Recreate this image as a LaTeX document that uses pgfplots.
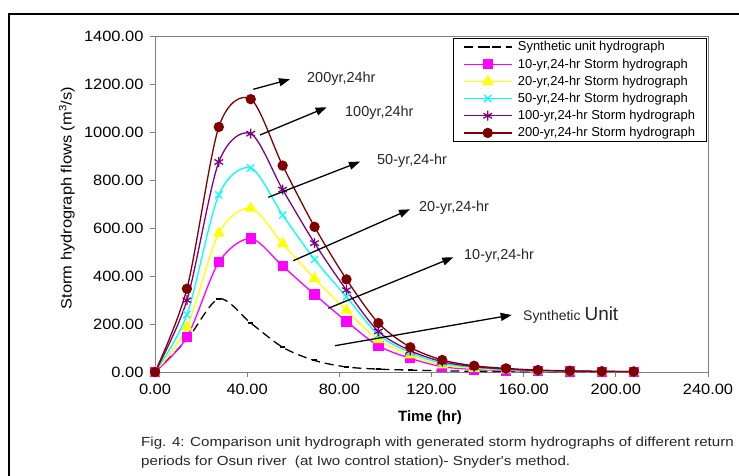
\documentclass[border=0pt]{standalone}
\usepackage{fontspec}
\setmainfont{Liberation Sans}
\newfontfamily\widefont{Liberation Sans}[FakeStretch=1.1]
\newfontfamily\capfont{Liberation Sans}[FakeStretch=1.15]
\usepackage{pgfplots}
\pgfplotsset{compat=1.18}
\usetikzlibrary{arrows.meta}

\definecolor{yrten}{RGB}{255,0,255}
\definecolor{yrtwenty}{RGB}{255,255,0}
\definecolor{yrfifty}{RGB}{0,255,255}
\definecolor{yrhundred}{RGB}{128,0,128}
\definecolor{yrtwohundred}{RGB}{128,0,0}
\definecolor{axgray}{RGB}{128,128,128}

\begin{document}
\begin{tikzpicture}
\path[use as bounding box, clip] (0,0) rectangle (739bp,-476bp);

\begin{axis}[
    at={(155bp,-372bp)}, anchor=south west,
    scale only axis, width=553bp, height=336bp,
    xmin=0, xmax=240, ymin=0, ymax=1400,
    xtick={0,40,...,240}, ytick={0,200,...,1400},
    xtick pos=left, ytick pos=left,
    tick align=outside, major tick length=5bp,
    tick style={axgray, line width=0.8bp},
    axis line style={axgray, line width=0.8bp},
    ticklabel style={font=\widefont\fontsize{15}{18}\selectfont,
        /pgf/number format/fixed, /pgf/number format/fixed zerofill,
        /pgf/number format/precision=2, /pgf/number format/1000 sep={},
        /pgf/number format/assume math mode=true},
    yticklabel style={xshift=-3bp},
    xticklabel style={yshift=-4bp},
    every axis plot/.append style={line width=1.3bp, smooth},
    legend cell align=left,
    legend image code/.code={\draw[mark repeat=2,mark phase=2] plot coordinates {(0bp,0bp) (24bp,0bp) (48bp,0bp)};
        \path (52bp,0bp);},
    legend style={at={(0.998,0.995)}, anchor=north east, draw=black, line width=0.8bp,
        font=\fontsize{13}{15}\selectfont, row sep=3.3bp, inner xsep=10bp, inner ysep=2bp,
        nodes={inner sep=1.5bp}},
]
\addplot[black, dash pattern=on 9bp off 5bp, mark=-, mark size=2.5bp, mark options={solid, line width=2bp}] coordinates {
(0,0) (13.85,135) (27.7,305) (41.55,204) (55.4,103) (69.25,48) (83.1,21) (96.95,12)
(110.8,8) (124.65,5) (138.5,3) (152.35,2) (166.2,1) (180.05,1) (193.9,0) (207.75,0)};
\addlegendentry{Synthetic unit hydrograph}
\addplot[yrten, mark=square*, mark size=4.5bp, mark options={solid}] coordinates {
(0,0) (13.85,145) (27.7,458) (41.55,556) (55.4,441) (69.25,323) (83.1,211) (96.95,109)
(110.8,57) (124.65,22) (138.5,11) (152.35,6) (166.2,3) (180.05,2) (193.9,1) (207.75,1)};
\addlegendentry{10-yr,24-hr Storm hydrograph}
\addplot[yrtwenty, mark=triangle*, mark size=5.5bp, mark options={solid}] coordinates {
(0,0) (13.85,187) (27.7,578) (41.55,682) (55.4,535) (69.25,389) (83.1,257) (96.95,134)
(110.8,71) (124.65,29) (138.5,15) (152.35,8) (166.2,4) (180.05,2.5) (193.9,1.5) (207.75,1)};
\addlegendentry{20-yr,24-hr Storm hydrograph}
\addplot[yrfifty, mark=x, mark size=5bp, mark options={solid}] coordinates {
(0,0) (13.85,239) (27.7,738) (41.55,850) (55.4,654) (69.25,469) (83.1,313) (96.95,155)
(110.8,81) (124.65,36) (138.5,19) (152.35,10) (166.2,5) (180.05,3) (193.9,2) (207.75,1)};
\addlegendentry{50-yr,24-hr Storm hydrograph}
\addplot[yrhundred, mark=asterisk, mark size=5bp, mark options={solid}] coordinates {
(0,0) (13.85,299) (27.7,875) (41.55,993) (55.4,760) (69.25,537) (83.1,341) (96.95,169)
(110.8,89) (124.65,43) (138.5,22) (152.35,12) (166.2,6) (180.05,4) (193.9,2) (207.75,1.5)};
\addlegendentry{100-yr,24-hr Storm hydrograph}
\addplot[yrtwohundred, mark=*, mark size=4.5bp, mark options={solid}] coordinates {
(0,0) (13.85,347) (27.7,1021) (41.55,1137) (55.4,860) (69.25,605) (83.1,386) (96.95,204)
(110.8,103) (124.65,50) (138.5,26) (152.35,15) (166.2,8) (180.05,5) (193.9,3) (207.75,2)};
\addlegendentry{200-yr,24-hr Storm hydrograph}
\end{axis}

\begin{scope}[x=1bp, y=-1bp]
  % outer frame
  \draw[line width=1.4bp] (9,500) -- (9,14) -- (760,14);
  % axis titles
  \node[rotate=90, font=\widefont\fontsize{15}{18}\selectfont] at (67,198) {Storm hydrograph flows (m\textsuperscript{3}/s)};
  \node[font=\bfseries\fontsize{15}{18}\selectfont] at (430,418) {Time (hr)};
  % annotations
  \begin{scope}[line width=1.3bp, -{Triangle[length=11bp,width=8bp]}]
    \draw (253.3,89.3) -- (290,79.3);
    \draw (260,135) -- (326.7,107.3);
    \draw (268.3,197.3) -- (360,161.7);
    \draw (293.3,260.7) -- (410,209.3);
    \draw (328.3,308.3) -- (453.3,257.3);
    \draw (335,345.7) -- (511.7,315);
  \end{scope}
  \begin{scope}[every node/.style={anchor=west, inner sep=0pt, font=\fontsize{14.5}{17}\selectfont, text=black!85}]
    \node at (307,79) {200yr,24hr};
    \node at (345,113) {100yr,24hr};
    \node at (377,161) {50-yr,24-hr};
    \node at (419,208) {20-yr,24-hr};
    \node at (464,256) {10-yr,24-hr};
    \node at (523,315) {{\fontsize{14}{17}\selectfont Synthetic} {\fontsize{19}{21}\selectfont Unit}};
  \end{scope}
  % caption
  \begin{scope}[every node/.style={anchor=west, inner sep=0pt, font=\capfont\fontsize{13.2}{15}\selectfont, text=black!85}]
    \node at (141,443) {Fig. 4: Comparison unit hydrograph with generated storm hydrographs of different return};
    \node at (141,462) {periods for Osun river~ (at Iwo control station)- Snyder's method.};
  \end{scope}
\end{scope}
\end{tikzpicture}
\end{document}
